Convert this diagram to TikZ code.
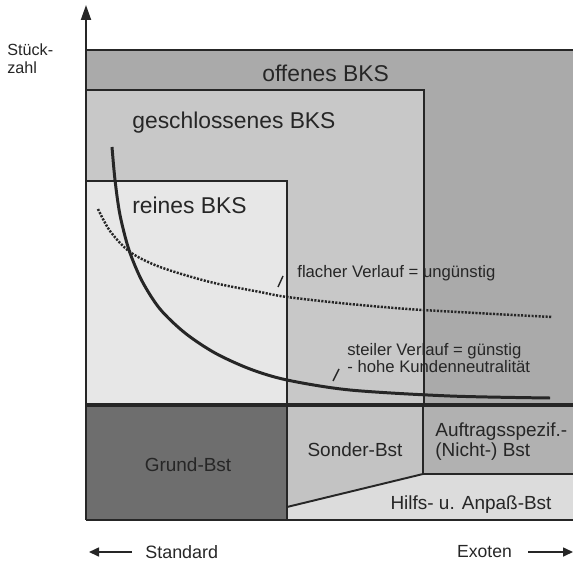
\documentclass[tikz,border=0pt]{standalone}
\usepackage{fontspec}
\setmainfont{Liberation Sans}
\usepackage{xcolor}
\definecolor{bksline}{HTML}{262626}
\definecolor{bksopen}{HTML}{AAAAAA}
\definecolor{bksclosed}{HTML}{C8C8C8}
\definecolor{bkspure}{HTML}{E7E7E7}
\definecolor{bstgrund}{HTML}{6E6E6E}
\definecolor{bstsonder}{HTML}{C3C3C3}
\definecolor{bstauftrag}{HTML}{B1B1B1}
\definecolor{bsthilfs}{HTML}{DCDCDC}
\usetikzlibrary{arrows.meta, positioning}

\begin{document}
\begin{tikzpicture}[
    x=0.02cm, y=-0.02cm,
    region/.style={draw=bksline, line width=1.1pt},
    biglabel/.style={font=\fontsize{13}{15}\selectfont, text=bksline, inner sep=0pt, anchor=west},
    boxlabel/.style={font=\fontsize{10.8}{11.4}\selectfont, text=bksline, inner sep=0pt, align=left},
    note/.style={font=\fontsize{9.5}{9.7}\selectfont, text=bksline, inner sep=0pt, align=left, anchor=west},
    steep/.style={line width=1.7pt, draw=bksline},
    flat/.style={line width=1.4pt, draw=bksline, dash pattern=on 1.2pt off 0.8pt},
    axis/.style={-{Triangle[length=3mm, width=2mm]}, line width=1.1pt, draw=bksline},
    dirarrow/.style={-{Triangle[length=2mm, width=1.8mm]}, line width=0.9pt, draw=bksline}
]
\useasboundingbox (0,0) rectangle (573,563);

% offenes BKS
\fill[bksopen] (86,50) rectangle (573,405);
\draw[region] (86,50) -- (573,50);
\node[biglabel] (offen) at (262,73) {offenes BKS};

% geschlossenes BKS
\filldraw[region, fill=bksclosed] (86,405) |- (424,90) -- (424,405);
\node[biglabel] (geschl) at (132,123) {geschlossenes BKS};

% reines BKS
\filldraw[region, fill=bkspure] (86,405) |- (287,181) -- (287,405);
\node[biglabel] (rein) at (132,205) {reines BKS};

% Verlaeufe
\draw[flat] plot[smooth] coordinates {(98,209) (110,231) (130,252) (160,267) (210,282) (260,292) (287,297) (350,304) (423,310) (552,317)};
\draw[steep] plot[smooth] coordinates {(112,147) (115,180) (120,215) (129,250) (142,281) (160,309) (185,333) (215,353) (250,369) (287,380) (350,390) (450,396) (550,398)};

\node[note] (flach) at (297,273) {flacher Verlauf = ungünstig};
\draw[bksline, line width=0.8pt] (278,287) -- (283,276);
\node[note] (steil) at (347,358) {steiler Verlauf = günstig\\- hohe Kundenneutralität};
\draw[bksline, line width=0.8pt] (333,381) -- (339,369);

% Bausteine
\fill[bstgrund] (86,405) rectangle (287,520);
\fill[bstsonder] (287,405) -- (423,405) -- (423,474) -- (287,507) -- cycle;
\fill[bstauftrag] (423,405) rectangle (573,474);
\fill[bsthilfs] (287,507) -- (423,474) -- (573,474) -- (573,520) -- (287,520) -- cycle;
\draw[region] (287,405) -- (287,520);
\draw[region] (423,405) -- (423,474) -- (573,474);
\draw[region] (287,507) -- (423,474);
\draw[bksline, line width=0.8pt] (86,520) -- (573,520);
\draw[bksline, line width=2.4pt] (86,405) -- (573,405);

\node[boxlabel] (grund) at (188,465) {Grund-Bst};
\node[boxlabel] (sonder) at (355,450) {Sonder-Bst};
\node[boxlabel, anchor=west] (auftrag) at (435,442) {Auftragsspezif.-\\(Nicht-) Bst};
\node[boxlabel] (hilfs) at (471,505) {Hilfs- u. Anpaß-Bst};

% Achse
\coordinate (origin) at (86,520);
\coordinate (ytop) at (86,5);
\draw[axis] (origin) -- (ytop);
\node[note, font=\fontsize{9.2}{10.3}\selectfont] (stueck) at (7,59) {Stück-\\zahl};

% Richtung
\node[note, font=\fontsize{10.2}{12}\selectfont, inner xsep=7.4pt] (std) at (132,552) {Standard};
\coordinate (stdtip) at (89,552);
\draw[dirarrow] (std) -- (stdtip);
\node[note, font=\fontsize{10}{12}\selectfont, inner xsep=9pt, anchor=east] (exo) at (528,552) {Exoten};
\coordinate (exotip) at (573,552);
\draw[dirarrow] (exo) -- (exotip);

\end{tikzpicture}
\end{document}
